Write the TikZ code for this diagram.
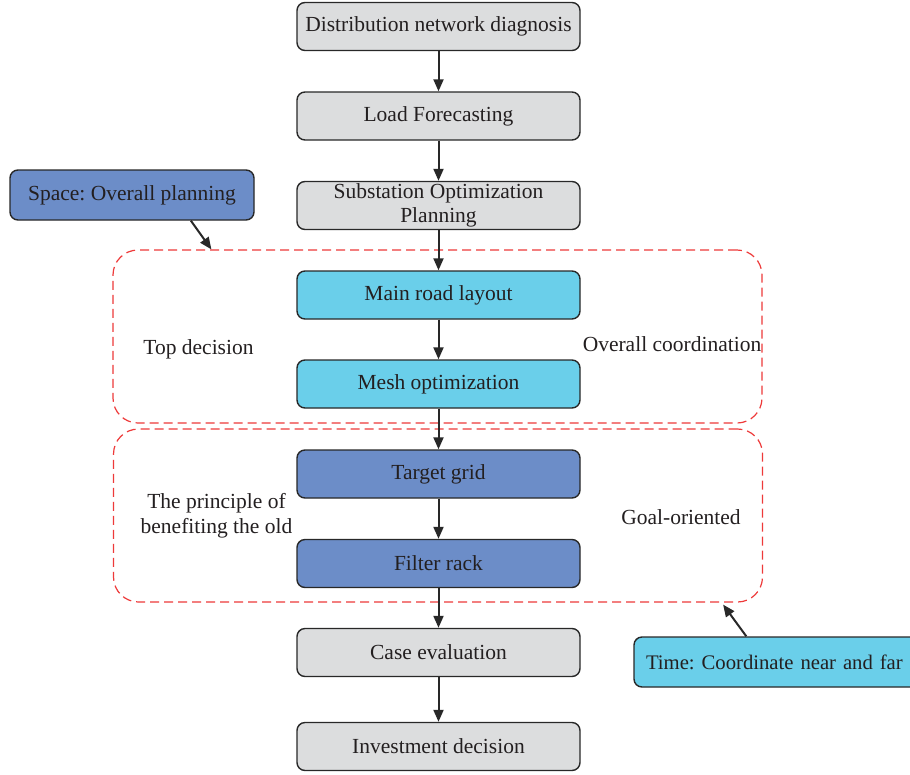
\documentclass[tikz,border=0pt]{standalone}
\usepackage{fontspec}
\setmainfont{Liberation Serif}
\usetikzlibrary{arrows.meta,calc}
\definecolor{boxgray}{RGB}{220,221,222}
\definecolor{boxcyan}{RGB}{106,207,234}
\definecolor{boxblue}{RGB}{108,141,200}
\definecolor{edgec}{RGB}{40,40,40}
\definecolor{txt}{RGB}{35,31,32}
\definecolor{zonered}{RGB}{238,58,58}
\frenchspacing
\begin{document}
\begin{tikzpicture}[x=1pt,y=-1pt,
  mainfont/.style={font=\fontsize{21.5}{24.5}\selectfont, text=txt},
  box/.style={mainfont, draw=edgec, line width=1.4pt, rounded corners=8pt,
    minimum width=283pt, minimum height=48pt, inner sep=0pt, align=center},
  graybox/.style={box, fill=boxgray},
  cyanbox/.style={box, fill=boxcyan},
  bluebox/.style={box, fill=boxblue},
  zone/.style={draw=zonered, line width=1.2pt, dash pattern=on 9pt off 5pt,
    rounded corners=25pt, minimum width=649pt, minimum height=173pt, inner sep=0pt},
  label/.style={mainfont, inner sep=0pt, align=center},
  arr/.style={draw=edgec, line width=2pt, -{Triangle[length=12pt,width=10pt]}}]
\useasboundingbox (0,0) rectangle (910,774);
\clip (0,0) rectangle (910,774);
\fill[white] (0,0) rectangle (910,774);

% dashed zones
\node[zone] (zone1) at (437.5,336.5) {};
\node[zone] (zone2) at (438,515.5) {};

% main column
\node[graybox] (b1) at (438.5,26.5) {Distribution network diagnosis};
\node[graybox] (b2) at (438.5,116) {Load Forecasting};
\node[graybox] (b3) at (438.5,205.5) {Substation Optimization\\Planning};
\node[cyanbox] (b4) at (438.5,295) {Main road layout};
\node[cyanbox] (b5) at (438.5,384) {Mesh optimization};
\node[bluebox] (b6) at (438.5,474) {Target grid};
\node[bluebox] (b7) at (438.5,563.5) {Filter rack};
\node[graybox] (b8) at (438.5,652.5) {Case evaluation};
\node[graybox] (b9) at (438.5,746.5) {Investment decision};

% side boxes
\node[box, fill=boxblue, minimum width=244pt, minimum height=50pt] (sp) at (132,195) {Space: Overall planning};
\node[box, fill=boxcyan, minimum height=50pt, inner xsep=12pt, text width=300pt, align=left,
  font=\fontsize{20.7}{24}\selectfont] (tm) at (796,662) {Time: Coordinate near and far};

% labels
\node[label, anchor=base] (l1) at (198.5,354) {Top decision};
\node[label, anchor=base] (l2) at (672,351) {Overall coordination};
\node[label, anchor=base] (l3) at (216.5,508) {The principle of};
\node[label, anchor=base] (l4) at (216.5,533) {benefiting the old};
\node[label, anchor=base] (l5) at (681,524) {Goal-oriented};

% connectors
\draw[arr] (b1) -- (b2);
\draw[arr] (b2) -- (b3);
\draw[arr] (b3) -- (b4);
\draw[arr] (b4) -- (b5);
\draw[arr] (b5) -- (b6);
\draw[arr] (b6) -- (b7);
\draw[arr] (b7) -- (b8);
\draw[arr] (b8) -- (b9);
\coordinate (spA) at ($(sp.south west)!0.74!(sp.south east)$);
\coordinate (z1A) at ([xshift=99pt]zone1.north west);
\draw[arr] (spA) -- (z1A);
\coordinate (tmA) at ([xshift=113pt]tm.north west);
\coordinate (z2A) at ([xshift=-40pt,yshift=-2pt]zone2.south east);
\draw[arr] (tmA) -- (z2A);
\end{tikzpicture}
\end{document}
